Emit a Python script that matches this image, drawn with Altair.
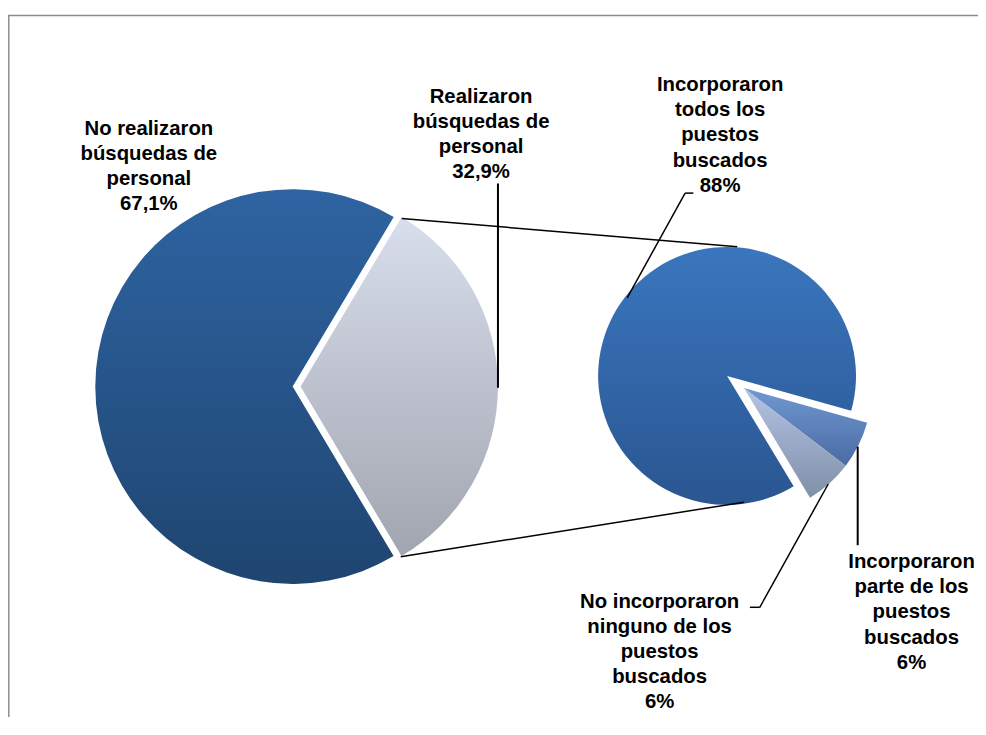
import math
import altair as alt
import pandas as pd

# ---- data ----
pie = ["izq", "izq", "der", "der", "der"]
slice_id = ["realizaron", "no_realizaron", "parte", "ninguno", "todos"]
label_lines = [
    "Realizaron\nbúsquedas de\npersonal",
    "No realizaron\nbúsquedas de\npersonal",
    "Incorporaron\nparte de los\npuestos\nbuscados",
    "No incorporaron\nninguno de los\npuestos\nbuscados",
    "Incorporaron\ntodos los\npuestos\nbuscados",
]
valor = [32.9, 67.1, 6, 6, 88]
pct_labels = ["32,9%", "67,1%", "6%", "6%", "88%"]
orden = [0, 1, 0, 1, 2]

df = pd.DataFrame({
    "pie": pie, "slice": slice_id, "valor": valor, "orden": orden,
    "texto": [a + "\n" + b for a, b in zip(label_lines, pct_labels)],
})

W, H = 978, 712
base = alt.Chart(df).transform_window(
    cum="sum(valor)", groupby=["pie"], sort=[alt.SortField("orden")]
).transform_calculate(start="datum.cum - datum.valor")


def grad(c0, c1):
    return alt.LinearGradient(
        gradient="linear", x1=0, y1=0, x2=0, y2=1,
        stops=[alt.GradientStop(color=c0, offset=0), alt.GradientStop(color=c1, offset=1)],
    )


def slice_layer(sid, rot_deg, cx, cy, r, c0, c1):
    rot = math.radians(rot_deg)
    sc = alt.Scale(domain=[0, 100], range=[rot, rot + 2 * math.pi])
    return base.transform_filter(alt.datum.slice == sid).mark_arc(
        radius=r, fill=grad(c0, c1), stroke=None
    ).encode(
        theta=alt.Theta("start:Q", scale=sc),
        theta2="cum:Q",
        x=alt.value(cx), y=alt.value(cy),
    )


LROT, RROT = 30.8, 105.7
LX, LY, LR = 287, 378.7, 199
RX, RY, RR = 725, 368, 130

arcs = [
    slice_layer("no_realizaron", LROT, LX, LY, LR, "#2e64a2", "#1f4570"),
    slice_layer("realizaron", LROT, LX + 8, LY, LR, "#d8deeb", "#a1a5b0"),
    slice_layer("todos", RROT, RX, RY, RR, "#3a76be", "#2a5691"),
    slice_layer("parte", RROT, RX + 17, RY + 12.3, RR - 1, "#7098d2", "#4a6ba2"),
    slice_layer("ninguno", RROT, RX + 17, RY + 12.3, RR - 1, "#b4c2e4", "#8090a8"),
]


def seg(x1, y1, x2, y2, color="#000000", w=1.5):
    return alt.Chart(df).transform_filter(alt.datum.orden == 0).transform_filter(
        alt.datum.pie == "izq"
    ).mark_rule(color=color, strokeWidth=w).encode(
        x=alt.value(x1), y=alt.value(y1), x2=alt.value(x2), y2=alt.value(y2)
    )


lines = [
    # frame
    seg(0, 4.7, W, 4.7, "#8c8c8c", 1.5),
    seg(0.8, 4.7, 0.8, H, "#8c8c8c", 1.5),
    # connectors
    seg(397, 209.3, 735.3, 237.7),
    seg(396, 550.3, 742, 495.3),
    # leaders
    seg(494, 174, 494, 380, w=2),
    seg(682.7, 183.7, 691, 183.7),
    seg(682.7, 183.7, 624.3, 289.3),
    seg(856.7, 439.3, 856.7, 538.7, w=2),
    seg(827, 477, 758, 601.3),
    seg(758, 601.3, 748, 601.3),
]


def label(sid, x, y):
    return base.transform_filter(alt.datum.slice == sid).mark_text(
        font="Liberation Sans", fontWeight="bold", fontSize=20.5,
        lineBreak="\n", lineHeight=25.3, align="center", baseline="alphabetic",
        color="#000000",
    ).encode(text="texto:N", x=alt.value(x), y=alt.value(y))


labels = [
    label("no_realizaron", 142, 125),
    label("realizaron", 477, 93),
    label("todos", 718, 81),
    label("parte", 911, 562),
    label("ninguno", 657, 602),
]

chart = alt.layer(*arcs, *lines, *labels).resolve_scale(theta="independent").properties(
    width=W, height=H, padding=0, autosize=alt.AutoSizeParams(type="none"),
    background="white",
).configure_view(stroke=None)

chart.save("out.html", embed_options={"renderer": "svg", "actions": False})
